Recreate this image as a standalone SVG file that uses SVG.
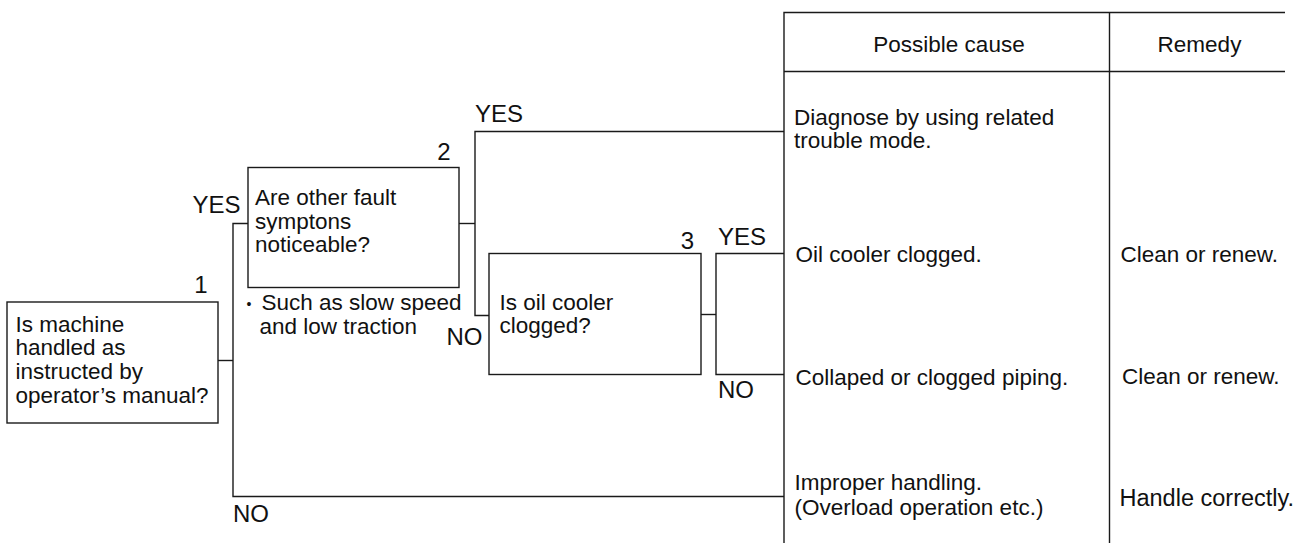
<svg xmlns="http://www.w3.org/2000/svg" width="1296" height="543" viewBox="0 0 1296 543">
  <style>
    .box { fill: #ffffff; stroke: #1a1a1a; stroke-width: 1.4; }
    .wire { fill: none; stroke: #1a1a1a; stroke-width: 1.4; }
    .grid { fill: none; stroke: #1a1a1a; stroke-width: 1.4; }
    text { font-family: "Liberation Sans", Arial, Helvetica, sans-serif; fill: #111111; }
    .t { font-size: 22.5px; }
    .lbl { font-size: 24px; }
    .num { font-size: 24px; }
  </style>

  <rect width="1296" height="543" fill="#ffffff"/>

  <!-- connectors -->
  <g id="connectors">
    <!-- from question 1 -->
    <polyline class="wire" points="218,360.5 233,360.5"/>
    <polyline class="wire" points="248,223.5 233,223.5 233,496.5 784,496.5"/>
    <!-- from question 2 -->
    <polyline class="wire" points="459,223.5 475,223.5"/>
    <polyline class="wire" points="784,131.5 475,131.5 475,315.5 489,315.5"/>
    <!-- from question 3 -->
    <polyline class="wire" points="701,314.5 716,314.5"/>
    <polyline class="wire" points="784,253.5 716,253.5 716,374.5 784,374.5"/>
  </g>

  <!-- branch labels -->
  <g id="labels">
    <text class="lbl" x="192.5" y="212.5">YES</text>
    <text class="lbl" x="233" y="521.5">NO</text>
    <text class="lbl" x="475" y="121.5">YES</text>
    <text class="lbl" x="446.5" y="345">NO</text>
    <text class="lbl" x="718" y="245">YES</text>
    <text class="lbl" x="718" y="398">NO</text>
  </g>

  <!-- question 1 -->
  <g id="q1">
    <rect class="box" x="7" y="302" width="211" height="121"/>
    <text class="num" x="207.5" y="292.5" text-anchor="end">1</text>
    <text class="t" x="15.5" y="331.5">Is machine</text>
    <text class="t" x="15.5" y="355">handled as</text>
    <text class="t" x="15.5" y="379">instructed by</text>
    <text class="t" x="15.5" y="403">operator’s manual?</text>
  </g>

  <!-- question 2 -->
  <g id="q2">
    <rect class="box" x="248" y="167.5" width="211" height="120"/>
    <text class="num" x="450.5" y="160" text-anchor="end">2</text>
    <text class="t" x="255" y="205">Are other fault</text>
    <text class="t" x="255" y="228.5">symptons</text>
    <text class="t" x="255" y="251.5">noticeable?</text>
    <text x="246.5" y="309" style="font-size:14px">•</text>
    <text class="t" x="261.5" y="310">Such as slow speed</text>
    <text class="t" x="259.5" y="334">and low traction</text>
  </g>

  <!-- question 3 -->
  <g id="q3">
    <rect class="box" x="489" y="253.5" width="212" height="121"/>
    <text class="num" x="694" y="248.5" text-anchor="end">3</text>
    <text class="t" x="499.5" y="310">Is oil cooler</text>
    <text class="t" x="499.5" y="333">clogged?</text>
  </g>

  <!-- cause / remedy table -->
  <g id="table">
    <polyline class="grid" points="1285,12.5 784,12.5 784,543"/>
    <line class="grid" x1="784" y1="71.5" x2="1285" y2="71.5"/>
    <line class="grid" x1="1109.5" y1="12.5" x2="1109.5" y2="543"/>
    <text class="t" x="949" y="52" text-anchor="middle">Possible cause</text>
    <text class="t" x="1199.5" y="52" text-anchor="middle">Remedy</text>
  </g>

  <g id="cause-related">
    <text class="t" x="794" y="124.5">Diagnose by using related</text>
    <text class="t" x="794" y="147.5">trouble mode.</text>
  </g>

  <g id="cause-cooler">
    <text class="t" x="795.5" y="261.5">Oil cooler clogged.</text>
    <text class="t" x="1120.5" y="261.5">Clean or renew.</text>
  </g>

  <g id="cause-piping">
    <text class="t" x="795.5" y="384.5">Collaped or clogged piping.</text>
    <text class="t" x="1122" y="383.5">Clean or renew.</text>
  </g>

  <g id="cause-handling">
    <text class="t" x="794.5" y="490">Improper handling.</text>
    <text class="t" x="794.5" y="515">(Overload operation etc.)</text>
    <text class="t" x="1119.5" y="505.5" style="font-size:23.5px">Handle correctly.</text>
  </g>
</svg>
